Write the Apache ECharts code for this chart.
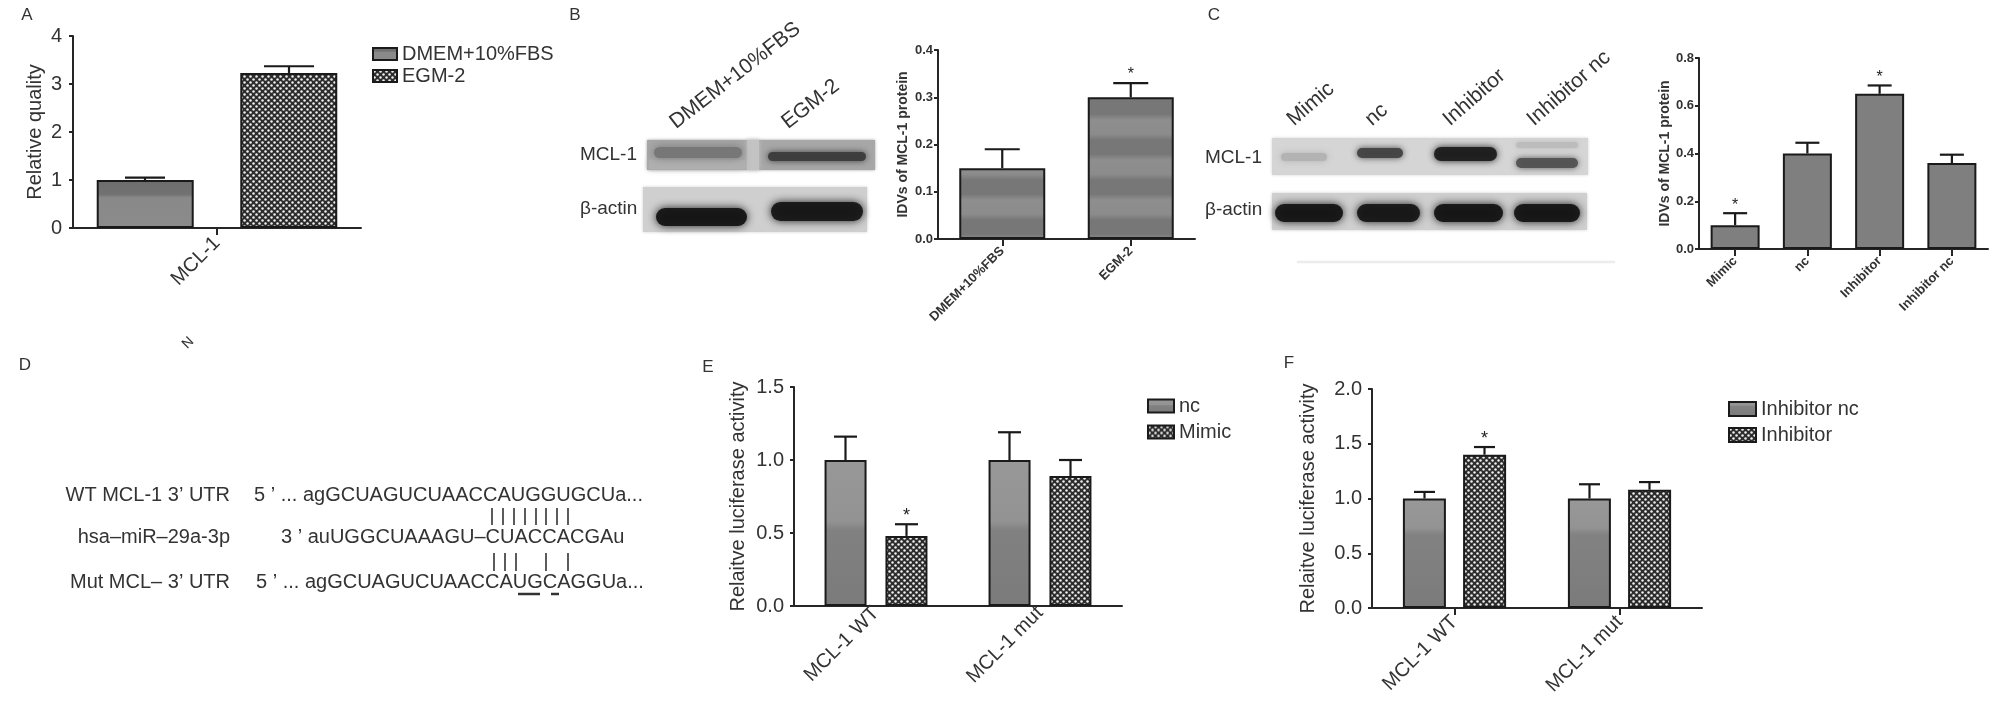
<!DOCTYPE html>
<html><head><meta charset="utf-8">
<script src="https://cdn.jsdelivr.net/npm/echarts@6/dist/echarts.min.js"></script>
<style>html,body{margin:0;padding:0;background:#fff}#c{width:2008px;height:712px}</style>
</head><body><div id="c"></div>
<script>
// ---------------- DATA ----------------
// Panel A
const catA = ['MCL-1'];
const seriesA = ['DMEM+10%FBS', 'EGM-2'];
const valA_dmem = [1.00];
const errA_dmem = [0.05];
const valA_egm = [3.23];
const errA_egm = [0.14];
const yTicksA = [0, 1, 2, 3, 4];
// Panel B
const catB = ['DMEM+10%FBS', 'EGM-2'];
const valB = [0.15, 0.30];
const errB = [0.04, 0.03];
const sigB = [0, 1];
const yTicksB = [0.0, 0.1, 0.2, 0.3, 0.4];
const lanesB = ['DMEM+10%FBS', 'EGM-2'];
// Panel C
const catC = ['Mimic', 'nc', 'Inhibitor', 'Inhibitor nc'];
const valC = [0.10, 0.40, 0.65, 0.36];
const errC = [0.05, 0.045, 0.035, 0.035];
const sigC = [1, 0, 1, 0];
const yTicksC = [0.0, 0.2, 0.4, 0.6, 0.8];
const lanesC = ['Mimic', 'nc', 'Inhibitor', 'Inhibitor nc'];
// Panel D
const seqLabels = ['WT MCL-1 3\u2019 UTR', 'hsa\u2013miR\u201329a-3p', 'Mut MCL\u2013 3\u2019 UTR'];
const seqTexts = ['5 \u2019 ... agGCUAGUCUAACCAUGGUGCUa...', '3 \u2019 auUGGCUAAAGU\u2013CUACCACGAu', '5 \u2019 ... agGCUAGUCUAACCAUGCAGGUa...'];
// Panel E
const catE = ['MCL-1 WT', 'MCL-1 mut'];
const seriesE = ['nc', 'Mimic'];
const valE_nc = [1.00, 1.00];
const errE_nc = [0.16, 0.19];
const valE_mimic = [0.48, 0.89];
const errE_mimic = [0.08, 0.11];
const sigE_mimic = [1, 0];
const yTicksE = [0.0, 0.5, 1.0, 1.5];
// Panel F
const catF = ['MCL-1 WT', 'MCL-1 mut'];
const seriesF = ['Inhibitor nc', 'Inhibitor'];
const valF_nc = [1.00, 1.00];
const errF_nc = [0.06, 0.13];
const valF_inh = [1.40, 1.08];
const errF_inh = [0.07, 0.07];
const sigF_inh = [1, 0];
const yTicksF = [0.0, 0.5, 1.0, 1.5, 2.0];

// ---------------- STYLE ----------------
const FF = '"Liberation Sans", Arial, Helvetica, sans-serif';
const TXT = '#333';
const AX = '#262626';

function checker() {
  const c = document.createElement('canvas'); c.width = 6; c.height = 6;
  const g = c.getContext('2d');
  g.fillStyle = '#2c2c2c'; g.fillRect(0, 0, 6, 6);
  g.fillStyle = '#f0f0f0';
  g.beginPath(); g.arc(1.5, 1.5, 1.25, 0, 7); g.fill();
  g.beginPath(); g.arc(4.5, 4.5, 1.25, 0, 7); g.fill();
  return { image: c, repeat: 'repeat' };
}
function bands() {
  const c = document.createElement('canvas'); c.width = 4; c.height = 40;
  const g = c.getContext('2d');
  const gr = g.createLinearGradient(0, 0, 0, 40);
  gr.addColorStop(0, '#8e8e8e'); gr.addColorStop(0.35, '#8c8c8c');
  gr.addColorStop(0.5, '#777777'); gr.addColorStop(0.85, '#777777'); gr.addColorStop(1, '#8e8e8e');
  g.fillStyle = gr; g.fillRect(0, 0, 4, 40);
  return { image: c, repeat: 'repeat' };
}
function vgrad(stops) {
  return { type: 'linear', x: 0, y: 0, x2: 0, y2: 1, colorStops: stops.map(s => ({ offset: s[0], color: s[1] })) };
}
const CHECK = checker();
const BANDS = bands();

function yAxisCfg(gi, ticks, digits, name, nameGap, fontSize, bold, margin) {
  return {
    gridIndex: gi, type: 'value', min: ticks[0], max: ticks[ticks.length - 1], interval: ticks[1] - ticks[0],
    splitLine: { show: false },
    axisLine: { show: true, lineStyle: { color: AX, width: 2 } },
    axisTick: { show: true, length: 4, lineStyle: { color: AX, width: 2 } },
    axisLabel: { formatter: v => v.toFixed(digits), fontSize: fontSize, fontWeight: bold ? 'bold' : 'normal', color: TXT, fontFamily: FF, margin: margin },
    name: name, nameLocation: 'middle', nameGap: nameGap, nameRotate: 90,
    nameTextStyle: { fontSize: bold ? 14 : 20, fontWeight: bold ? 'bold' : 'normal', color: TXT, fontFamily: FF }
  };
}
function xAxisCfg(gi, cats, fontSize, bold, rotate, margin, ticks) {
  return {
    gridIndex: gi, type: 'category', data: cats,
    axisLine: { show: true, lineStyle: { color: AX, width: 2 } },
    axisTick: { show: ticks, alignWithLabel: true, length: 7, lineStyle: { color: AX, width: 2 } },
    axisLabel: { rotate: rotate, fontSize: fontSize, fontWeight: bold ? 'bold' : 'normal', color: TXT, fontFamily: FF, margin: margin, interval: 0 }
  };
}
function barS(gi, name, data, color, width, gap) {
  const s = {
    type: 'bar', name: name, xAxisIndex: gi, yAxisIndex: gi, data: data, barWidth: width,
    itemStyle: { color: color, borderColor: '#1a1a1a', borderWidth: 2 }, z: 2
  };
  if (gap !== undefined) s.barGap = gap;
  return s;
}
function errS(gi, vals, errs, sigs, offset, capW, starSize) {
  return {
    type: 'custom', xAxisIndex: gi, yAxisIndex: gi, z: 6, silent: true,
    data: vals.map((v, i) => [i, v, errs[i], sigs ? sigs[i] : 0]),
    renderItem: function (params, api) {
      const i = api.value(0), v = api.value(1), e = api.value(2), s = api.value(3);
      const b = api.coord([i, v]), t = api.coord([i, v + e]);
      const x = b[0] + offset;
      const ch = [
        { type: 'line', shape: { x1: x, y1: b[1], x2: x, y2: t[1] }, style: { stroke: '#1a1a1a', lineWidth: 2.2 } },
        { type: 'line', shape: { x1: x - capW / 2, y1: t[1], x2: x + capW / 2, y2: t[1] }, style: { stroke: '#1a1a1a', lineWidth: 2.2 } }
      ];
      if (s) ch.push({ type: 'text', style: { text: '*', x: x, y: t[1] - 8, fill: '#222', fontSize: starSize, fontFamily: FF, align: 'center', verticalAlign: 'middle', textAlign: 'center', textVerticalAlign: 'middle' } });
      return { type: 'group', children: ch };
    }
  };
}
function legendCfg(names, left, top, gap, w, h) {
  return {
    data: names, left: left, top: top, orient: 'vertical', itemWidth: w, itemHeight: h, itemGap: gap, icon: 'rect',
    textStyle: { fontSize: 20, color: TXT, fontFamily: FF, lineHeight: 20 }, selectedMode: false
  };
}

// ---------------- GRAPHIC (labels, blots, sequences) ----------------
const G = [];
function txt(x, y, s, size, opt) {
  opt = opt || {};
  G.push({
    type: 'text', x: x, y: y, rotation: opt.rot || 0, z: 10, silent: true,
    style: { text: s, fill: opt.fill || TXT, font: (opt.bold ? 'bold ' : '') + size + 'px ' + FF, align: opt.align || 'left', verticalAlign: opt.va || 'middle' }
  });
}
function rect(x, y, w, h, fill, blur) {
  G.push({ type: 'rect', shape: { x: x, y: y, width: w, height: h }, silent: true, z: 1, style: { fill: fill, shadowBlur: blur || 0, shadowColor: fill } });
}
// blot band: soft rounded bar from x1..x2, y1..y2
function band(x1, y1, x2, y2, fill, blur) {
  const h = y2 - y1;
  G.push({ type: 'rect', shape: { x: x1, y: y1, width: x2 - x1, height: h, r: h / 2 }, silent: true, z: 2, style: { fill: fill, shadowBlur: blur, shadowColor: fill, opacity: 0.95 } });
}
function seg(x1, y1, x2, y2, w) {
  G.push({ type: 'line', shape: { x1: x1, y1: y1, x2: x2, y2: y2 }, silent: true, z: 3, style: { stroke: '#333', lineWidth: w } });
}
// panel letters
txt(27, 15, 'A', 17, { align: 'center' });
txt(575, 15, 'B', 17, { align: 'center' });
txt(1214, 15, 'C', 17, { align: 'center' });
txt(25, 365, 'D', 17, { align: 'center' });
txt(708, 367, 'E', 17, { align: 'center' });
txt(1289, 363, 'F', 17, { align: 'center' });
// stray glyph under panel A
txt(188, 343, 'N', 14, { align: 'center', rot: Math.PI / 4 });

// Blot B
rect(647, 140, 228, 30, '#a7a7a7', 3);
rect(747, 140, 12, 30, '#c3c3c3', 5);
rect(649, 160, 96, 9, '#b0b0b0', 6);
band(654, 147, 742, 158, '#767676', 8);
band(768, 152, 866, 161, '#3c3c3c', 6);
rect(643, 187, 224, 45, '#cfcfcf', 3);
band(656, 208, 747, 226, '#151515', 8);
band(771, 202, 863, 221, '#171717', 8);
txt(580, 155, 'MCL-1', 19);
txt(580, 209, '\u03b2-actin', 19);
txt(679, 133, lanesB[0], 21, { rot: 38 * Math.PI / 180, va: 'bottom' });
txt(791, 133, lanesB[1], 21, { rot: 38 * Math.PI / 180, va: 'bottom' });

// Blot C
rect(1272, 138, 316, 37, '#d5d5d5', 3);
band(1281, 153, 1327, 161, '#b2b2b2', 6);
band(1357, 148, 1403, 158, '#434343', 6);
band(1434, 147, 1497, 161, '#1d1d1d', 7);
band(1516, 142, 1578, 148, '#bcbcbc', 5);
band(1516, 158, 1578, 168, '#525252', 6);
rect(1272, 193, 315, 37, '#cfcfcf', 3);
band(1275, 204, 1343, 222, '#151515', 8);
band(1357, 204, 1420, 222, '#171717', 8);
band(1434, 204, 1503, 222, '#151515', 8);
band(1514, 204, 1580, 222, '#151515', 8);
rect(1297, 261, 318, 2, '#ececec', 2);
txt(1205, 158, 'MCL-1', 19);
txt(1205, 210, '\u03b2-actin', 19);
const laneCx = [1297, 1375, 1453, 1537];
lanesC.forEach((l, i) => txt(laneCx[i], 130, l, 21, { rot: 41 * Math.PI / 180, va: 'bottom' }));

// Panel D sequences
const rowY = [495, 537, 582];
const seqX = [254, 281, 256];
seqLabels.forEach((l, i) => txt(230, rowY[i], l, 20, { align: 'right' }));
seqTexts.forEach((s, i) => txt(seqX[i], rowY[i], s, 20));
[492, 503, 514, 525, 536, 546, 557, 568].forEach(x => seg(x, 508, x, 525, 1.6));
[494, 505, 516, 546, 568].forEach(x => seg(x, 553, x, 571, 1.6));
seg(518, 594, 540, 594, 2.5);
seg(551, 594, 559, 594, 2.5);

// ---------------- CHART ----------------
const chart = echarts.init(document.getElementById('c'), null, { renderer: 'canvas' });
chart.setOption({
  animation: false,
  backgroundColor: '#fff',
  textStyle: { fontFamily: FF },
  grid: [
    { left: 73, top: 36, width: 288, height: 192 },
    { left: 938, top: 50, width: 257, height: 189 },
    { left: 1699, top: 58, width: 289, height: 191 },
    { left: 794, top: 387, width: 328, height: 219 },
    { left: 1372, top: 389, width: 330, height: 219 }
  ],
  xAxis: [
    xAxisCfg(0, catA, 20, false, 45, 12, true),
    xAxisCfg(1, catB, 13, true, 45, 10, true),
    xAxisCfg(2, catC, 13, true, 45, 10, true),
    xAxisCfg(3, catE, 20, false, 45, 4, false),
    xAxisCfg(4, catF, 20, false, 45, 11, true)
  ],
  yAxis: [
    yAxisCfg(0, yTicksA, 0, 'Relative quality', 28, 20, false, 11),
    yAxisCfg(1, yTicksB, 1, 'IDVs of MCL-1 protein', 28, 13, true, 5),
    yAxisCfg(2, yTicksC, 1, 'IDVs of MCL-1 protein', 27, 13, true, 5),
    yAxisCfg(3, yTicksE, 1, 'Relaitve luciferase activity', 46, 20, false, 10),
    yAxisCfg(4, yTicksF, 1, 'Relaitve luciferase activity', 54, 20, false, 10)
  ],
  legend: [
    legendCfg(seriesA, 367, 39, 2, 24, 12),
    legendCfg(seriesE, 1142, 391, 6, 26, 13),
    legendCfg(seriesF, 1723, 394, 6, 27, 14)
  ],
  series: [
    barS(0, seriesA[0], valA_dmem, vgrad([[0, '#6d6d6d'], [0.3, '#727272'], [0.37, '#898989'], [1, '#8b8b8b']]), 97, '48%'),
    barS(0, seriesA[1], valA_egm, CHECK, 97, '48%'),
    errS(0, valA_dmem, errA_dmem, null, -72, 40, 18),
    errS(0, valA_egm, errA_egm, null, 72, 50, 18),

    barS(1, 'IDVs B', valB, BANDS, 86),
    errS(1, valB, errB, sigB, 0, 35, 16),

    barS(2, 'IDVs C', valC, '#7f7f7f', 49),
    errS(2, valC, errC, sigC, 0, 24, 16),

    barS(3, seriesE[0], valE_nc, vgrad([[0, '#989898'], [0.42, '#939393'], [0.48, '#818181'], [1, '#7b7b7b']]), 42, '45%'),
    barS(3, seriesE[1], valE_mimic, CHECK, 42, '45%'),
    errS(3, valE_nc, errE_nc, null, -30.5, 23, 18),
    errS(3, valE_mimic, errE_mimic, sigE_mimic, 30.5, 23, 18),

    barS(4, seriesF[0], valF_nc, vgrad([[0, '#989898'], [0.27, '#939393'], [0.33, '#828282'], [1, '#7b7b7b']]), 43, '40%'),
    barS(4, seriesF[1], valF_inh, CHECK, 43, '40%'),
    errS(4, valF_nc, errF_nc, null, -30, 21, 18),
    errS(4, valF_inh, errF_inh, sigF_inh, 30, 21, 18)
  ],
  graphic: G
});
</script>
</body></html>
